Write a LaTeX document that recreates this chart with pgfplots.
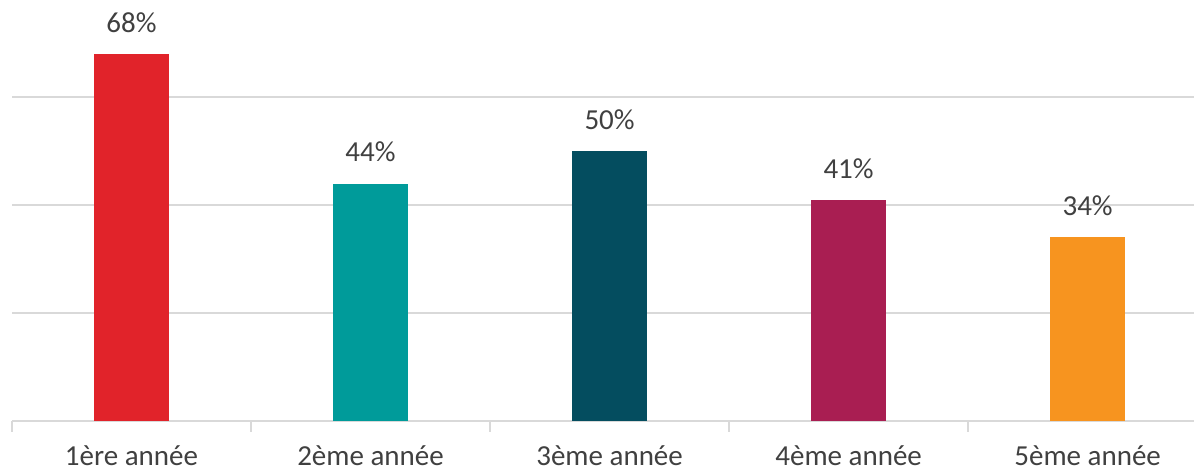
\documentclass[border=0pt]{standalone}
\usepackage{fontspec}
\setmainfont{Carlito}
\usepackage{pgfplots}
\pgfplotsset{compat=1.18}

\definecolor{cRed}{HTML}{E1232A}
\definecolor{cTeal}{HTML}{009B9A}
\definecolor{cDark}{HTML}{044D5F}
\definecolor{cMag}{HTML}{A91E52}
\definecolor{cOrange}{HTML}{F7941F}
\definecolor{gridgray}{HTML}{D9D9D9}
\definecolor{txt}{HTML}{404040}

\begin{document}
\begin{tikzpicture}
\useasboundingbox (-6pt,-25pt) rectangle (591.5pt,210.5pt);
\begin{axis}[
width=591pt,
height=210.5pt,
scale only axis,
xmin=-0.5, xmax=4.445,
ymin=0, ymax=78,
axis x line*=bottom,
axis y line*=left,
y axis line style={draw=none},
x axis line style={draw=gridgray, line width=1pt, -},
ytick={20,40,60},
yticklabels={},
ytick style={draw=none},
ymajorgrids,
grid style={draw=gridgray, line width=1pt},
xtick={0,1,2,3,4},
xticklabels={1ère année,2ème année,3ème année,4ème année,5ème année},
major x tick style={draw=none},
minor xtick={-0.5,0.5,1.5,2.5,3.5},
minor x tick style={draw=gridgray, line width=1pt},
minor tick length=5.5pt,
tick align=outside,
xticklabel style={font=\fontsize{14.5}{17}\selectfont, text=txt, yshift=-4.5pt},
ybar, bar width=37.5pt, bar shift=0pt,
/pgf/number format/assume math mode=true,
nodes near coords={\pgfmathprintnumber{\pgfplotspointmeta}\%},
every node near coord/.append style={font=\fontsize{14.5}{17}\selectfont, text=txt, inner sep=0pt, anchor=south, yshift=10.5pt},
]
\addplot[fill=cRed, draw=none] coordinates {(0,68)};
\addplot[fill=cTeal, draw=none] coordinates {(1,44)};
\addplot[fill=cDark, draw=none] coordinates {(2,50)};
\addplot[fill=cMag, draw=none] coordinates {(3,41)};
\addplot[fill=cOrange, draw=none] coordinates {(4,34)};
\end{axis}
\end{tikzpicture}
\end{document}
